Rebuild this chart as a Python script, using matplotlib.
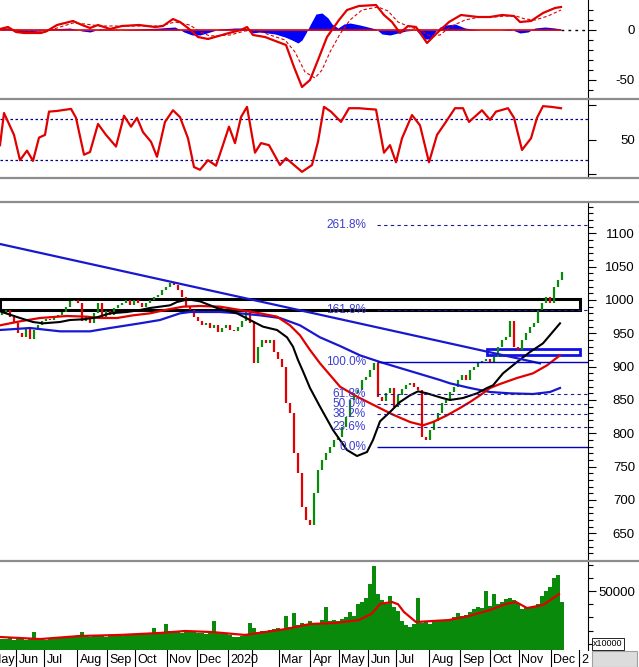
import numpy as np
import matplotlib
matplotlib.use("Agg")
import matplotlib.pyplot as plt
import matplotlib.ticker as mticker
import matplotlib.transforms as mtransforms
from matplotlib.lines import Line2D
from matplotlib.patches import Rectangle

plt.rcParams['font.family'] = ['Liberation Sans', 'DejaVu Sans']

# ---------------------------------------------------------------------------
# Data (x = chart position, 0 .. 588)
# ---------------------------------------------------------------------------

open0 = 978
closes = [
    980, 985, 975, 965, 950, 945, 958, 942, 955, 962, 968, 972, 970, 975, 978,
    982, 990, 998, 1000, 995, 968, 975, 965, 980, 995, 975, 983, 978, 988, 992,
    996, 1000, 993, 1000, 995, 990, 995, 1000, 1005, 1008, 1015, 1020, 1025, 1022, 1015,
    1005, 990, 985, 975, 968, 962, 966, 958, 962, 952, 958, 962, 955, 953, 960,
    968, 985, 965, 905, 930, 940, 935, 940, 922, 912, 900, 845, 830, 770, 740,
    690, 670, 662, 710, 745, 760, 770, 780, 790, 795, 810, 825, 850, 860, 865,
    880, 885, 895, 905, 855, 848, 860, 868, 840, 858, 866, 872, 876, 870, 865,
    795, 790, 805, 818, 830, 845, 850, 862, 870, 880, 888, 880, 895, 900, 905,
    908, 912, 905, 915, 930, 940, 945, 968, 930, 925, 940, 950, 960, 965, 985,
    995, 1005, 995, 1020, 1030, 1042,
]
volumes = [
    14000, 13500, 14500, 13000, 13500, 14000, 13000, 14500, 19000, 14000, 13500, 13000, 14000, 14500, 15000,
    15500, 15000, 16000, 15500, 16500, 19000, 16000, 15500, 16000, 17000, 16500, 15500, 16000, 17000, 16500,
    16000, 17500, 17000, 16500, 17000,
    17500, 18000, 17500, 22000, 18500, 18000, 25000, 19500, 20000, 19000, 18500, 19000, 20000, 19500, 18500,
    18000, 17500, 18500, 27000, 18000, 17500, 18000, 17000,
    15500, 15000, 16000, 17000, 26000,
    22000, 19000, 20000, 19500, 20500,
    21000, 22000, 21500, 31000, 22500, 33000, 24000,
    26000, 25000, 27000, 25500, 26000, 28000, 38000, 27000,
    28000, 27000, 29000, 30000, 34000, 31000, 40000,
    42000, 45000, 55000, 69000, 48000,
    43000, 40000, 46000, 38000, 35000,
    27000, 24000, 23000, 25000, 45000,
    26000, 27000, 25000, 26500, 27000, 28000, 27500,
    29000, 30000, 33000, 31000, 32000,
    34000, 36000, 38000, 37000, 50000, 39000, 48000, 40000,
    42000, 44000, 45000, 43000, 41000,
    36000, 38000, 37000, 39000, 40000,
    46000, 50000, 53000, 60000, 62000, 42000,
]

# moving averages on the price panel
ma_black_x = [0, 10, 20, 33, 43, 60, 70, 83, 97, 110, 127, 140, 150, 160, 170, 177, 188, 200, 217, 237,
              250, 263, 277, 287, 293, 298, 303, 310, 320, 333, 347, 357, 367, 373, 380, 390, 400, 410,
              418, 427, 440, 450, 463, 477, 487, 493, 503, 517, 530, 543, 560]
ma_black = [983, 978, 973, 967, 965, 967, 970, 971, 974, 980, 982, 985, 988, 990, 992, 997, 1001, 998, 988, 980,
            970, 960, 955, 944, 930, 910, 893, 868, 840, 805, 775, 766, 772, 790, 818, 832, 847, 857,
            863, 860, 854, 850, 853, 860, 868, 872, 890, 907, 922, 935, 965]
ma_red_x = [0, 20, 40, 67, 87, 100, 117, 133, 150, 165, 183, 200, 220, 240, 260, 277, 290, 300, 310, 320,
            340, 357, 377, 393, 410, 423, 433, 447, 460, 470, 480, 490, 500, 517, 533, 547, 560]
ma_red = [962, 968, 973, 976, 975, 973, 973, 977, 980, 985, 990, 991, 990, 985, 980, 975, 962, 947, 925, 905,
          870, 855, 840, 828, 817, 812, 817, 827, 838, 847, 857, 868, 874, 883, 890, 902, 917]
ma_blue_x = [0, 30, 60, 90, 110, 140, 160, 180, 190, 220, 240, 260, 280, 300, 320, 340, 360, 380, 400, 420,
             440, 450, 470, 490, 510, 533, 550, 560]
ma_blue = [955, 958, 953, 953, 958, 965, 970, 980, 982, 982, 980, 977, 973, 962, 944, 931, 917, 907, 898, 889,
           880, 875, 868, 862, 860, 859, 862, 868]

# trend line and zones
trend_x = [0, 540]
trend_y = [1084, 905]
resist_zone = (984.5, 1001)     # black box
support_zone = (917.5, 927)     # blue box
fib_low, fib_high = 780, 907
fib_ratios = [0.0, 0.236, 0.382, 0.5, 0.618, 1.0, 1.618, 2.618]
fib_labels = ["0.0%", "23.6%", "38.2%", "50.0%", "61.8%", "100.0%", "161.8%", "261.8%"]

# MACD panel
macd_x = [0, 8, 16, 24, 41, 47, 57, 73, 82, 90, 98, 110, 122, 139, 155, 163, 173, 180, 188, 198,
          208, 229, 241, 247, 253, 265, 278, 286, 294, 302, 310, 318, 327, 339, 347, 359, 376, 384, 392, 400,
          408, 416, 427, 437, 449, 461, 478, 490, 502, 514, 520, 531, 543, 555, 561]
macd = [1, 3, -2, -3, -3, -1, 5, 9, 5, 2, 5, 1, 4, 5, 3, 4, 11, 8, 2, -7,
        -9, -3, 0, 3, -5, -7, -12, -15, -37, -57, -50, -30, -7, 10, 20, 24, 25, 15, 8, -3,
        4, 3, -13, -3, 8, 15, 13, 13, 15, 14, 8, 9, 17, 22, 23]
signal_x = [0, 16, 30, 45, 57, 73, 85, 100, 122, 140, 160, 175, 190, 200, 210, 230, 245, 255, 270, 285,
            295, 305, 315, 322, 330, 340, 350, 362, 378, 388, 398, 410, 420, 430, 440, 450, 465, 480, 495, 505,
            516, 525, 535, 548, 561]
signal = [1, 0, -2, -2, 2, 7, 6, 4, 4, 4, 4, 8, 5, -2, -6, -5, -1, 0, -5, -10,
          -22, -42, -48, -40, -22, -4, 10, 20, 23, 19, 8, 3, 0, -6, -5, 3, 10, 13, 13, 14,
          14, 11, 10, 14, 20]
hist_x = [0, 10, 16, 25, 40, 50, 70, 82, 90, 100, 120, 140, 160, 175, 184, 192, 200, 210, 220, 235,
          245, 252, 260, 275, 285, 292, 298, 302, 306, 310, 316, 322, 328, 332, 338, 344, 350, 360, 368, 376,
          382, 390, 398, 406, 416, 424, 430, 436, 440, 446, 455, 465, 480, 500, 510, 520, 528, 535, 545, 555, 561]
hist = [2, 2, -2, -2, -1, 1, 2, -1, -2, 1, 0, 1, 2, 3, -2, -5, -5, -2, 1, 2,
        2, -3, -2, -4, -7, -10, -13, -10, -3, 5, 16, 17, 12, 6, 2, 6, 7, 5, 3, 1,
        -4, -5, -3, -1, 0, -9, -9, -1, 3, 5, 6, 2, 0, 0, 1, -3, -2, 2, 3, 2, 1]

# oscillator panel
osc_x = [0, 4, 14, 20, 27, 33, 39, 45, 49, 57, 71, 76, 84, 90, 98, 106, 116, 124, 131, 137,
         143, 151, 157, 165, 173, 180, 188, 194, 200, 208, 216, 222, 229, 235, 241, 247, 255, 261, 269, 280,
         286, 294, 302, 312, 318, 324, 331, 341, 349, 359, 367, 376, 384, 390, 396, 402, 412, 420, 429, 437,
         445, 455, 463, 469, 482, 490, 496, 508, 514, 522, 531, 537, 543, 551, 561]
osc = [42, 89, 57, 20, 34, 19, 53, 57, 91, 92, 95, 82, 28, 32, 73, 57, 40, 85, 69, 82,
       61, 47, 25, 76, 93, 83, 52, 10, 6, 20, 12, 38, 69, 45, 83, 98, 31, 45, 42, 13,
       23, 13, 3, 13, 47, 98, 91, 76, 96, 96, 95, 94, 31, 42, 17, 52, 86, 71, 17, 57,
       74, 96, 96, 76, 93, 79, 91, 96, 82, 35, 52, 82, 99, 98, 96]

# volume moving average
vma_x = [0, 40, 80, 120, 160, 185, 212, 245, 265, 286, 310, 335, 359, 372, 380, 392, 398, 404, 416, 433,
         449, 469, 490, 506, 516, 527, 543, 559]
vma = [15150, 13600, 15900, 16700, 18200, 19700, 18900, 16700, 18900, 21200, 25000, 25800, 28000, 33000,
       40200, 41700, 40000, 34100, 26500, 27300, 28000, 31100, 35600, 40200, 41700, 37100, 39400, 47700]

# bottom time axis
month_x = [-11, 16, 44, 77, 107, 135, 167, 197, 228, 252, 279, 310, 339, 368, 396, 429, 460, 490, 519, 551, 579]
month_lbl = ["May", "Jun", "Jul", "Aug", "Sep", "Oct", "Nov", "Dec", "2020", "", "Mar", "Apr", "May",
             "Jun", "Jul", "Aug", "Sep", "Oct", "Nov", "Dec", "2"]

# ---------------------------------------------------------------------------
W, H = 639, 667
XR = 588
GREEN = "#0a8a0a"
RED = "#e00000"
BLUE = "#1818d0"
FIBC = "#3c3cd0"

fig = plt.figure(figsize=(W / 100, H / 100), dpi=100)
fig.patch.set_facecolor("white")


def panel(top, bottom):
    return fig.add_axes([0, 1 - bottom / H, XR / W, (bottom - top) / H])


def style(ax, ylim, major, minor=None, labels=None):
    ax.set_xlim(0, XR)
    ax.set_ylim(*ylim)
    for s in ("top", "left", "bottom"):
        ax.spines[s].set_visible(False)
    ax.spines["right"].set_linewidth(0.8)
    ax.set_xticks([])
    ax.yaxis.tick_right()
    ax.yaxis.set_major_locator(mticker.FixedLocator(major))
    if minor is not None:
        ax.yaxis.set_minor_locator(mticker.FixedLocator(minor))
    if labels is not None:
        ax.yaxis.set_major_formatter(mticker.FixedFormatter(labels))
    ax.tick_params(axis="y", which="major", length=6, width=0.8, pad=27.8,
                   labelsize=9.5, colors="black")
    ax.tick_params(axis="y", which="minor", length=3.5, width=0.8)
    plt.setp(ax.get_yticklabels(), ha="right")


# --- MACD -------------------------------------------------------------------
ax1 = panel(0, 97)
ax1.fill_between(hist_x, hist, 0, color="#0000ff", lw=0)
ax1.hlines(0, 0, 561, color=RED, lw=1.2)
ax1.hlines(0, 561, XR, color="black", lw=1.0, linestyles=(0, (2, 3)))
ax1.plot(signal_x, signal, color=RED, lw=0.8, ls=(0, (3, 2)))
ax1.plot(macd_x, macd, color=RED, lw=1.6)
style(ax1, (-67, 30), [0, -50], np.arange(-60, 30, 10), ["0", "-50"])

# --- oscillator -------------------------------------------------------------
ax2 = panel(100, 178)
ax2.hlines([20, 80], 0, XR, color="#000090", lw=0.9, linestyles=(0, (2, 2)))
ax2.plot(osc_x, osc, color=RED, lw=1.6)
style(ax2, (-6, 108), [0, 50, 100], None, ["", "50", ""])

# --- price ------------------------------------------------------------------
ax3 = panel(203, 559)
pos = 2 + 4 * np.arange(len(closes))
c = np.array(closes, float)
o = np.r_[open0, c[:-1]]
up = c >= o
ax3.vlines(pos[up], o[up], c[up], color=GREEN, lw=1.6)
ax3.vlines(pos[~up], c[~up], o[~up], color=RED, lw=1.6)

ax3.plot(ma_blue_x, ma_blue, color=BLUE, lw=1.6)
ax3.plot(ma_red_x, ma_red, color=RED, lw=1.6)
ax3.plot(ma_black_x, ma_black, color="black", lw=1.5)
ax3.plot(trend_x, trend_y, color=BLUE, lw=1.6)

ax3.add_patch(Rectangle((0, resist_zone[0]), 580, resist_zone[1] - resist_zone[0],
                        fc="none", ec="black", lw=2.2))
ax3.add_patch(Rectangle((487, support_zone[0]), 93, support_zone[1] - support_zone[0],
                        fc="none", ec="#1010e8", lw=2.0))

for r, lbl in zip(fib_ratios, fib_labels):
    lvl = fib_low + r * (fib_high - fib_low)
    if r in (0.0, 1.0):
        ax3.hlines(lvl, 377, XR, color="#0000c0", lw=1.0)
    else:
        ax3.hlines(lvl, 377, XR, color="#1a1a9a", lw=0.8, linestyles=(0, (3, 3)))
    ax3.text(366, lvl, lbl, color=FIBC, fontsize=8.5, ha="right", va="center")

style(ax3, (611.5, 1145.5), np.arange(650, 1101, 50), np.arange(620, 1141, 10))

# --- volume -----------------------------------------------------------------
ax4 = panel(562, 650)
ax4.bar(pos, volumes, width=4.0, bottom=0, color=GREEN, lw=0)
ax4.plot(vma_x, vma, color=RED, lw=1.6)
style(ax4, (5300, 72000), [50000], np.arange(10000, 72000, 10000), ["50000"])

# panel separators
for y in (98.5, 178, 202, 560.5):
    fig.add_artist(Line2D([0, 1], [1 - y / H] * 2, transform=fig.transFigure,
                          color="#8c8c8c", lw=1.6))

# bottom time axis
tr = mtransforms.blended_transform_factory(ax4.transData, fig.transFigure)
for mx, ml in zip(month_x, month_lbl):
    fig.add_artist(Line2D([mx, mx], [0, 1 - 650 / H], transform=tr, color="black", lw=0.8))
    if ml:
        fig.text(mx + 2.5, 1 - 660 / H, ml, transform=tr, fontsize=9, ha="left", va="center")

fig.add_artist(Rectangle((592 / W, 0), 45 / W, 16 / H, transform=fig.transFigure,
                         fc="#dcdcdc", ec="#a0a0a0", lw=0.8))
fig.text(593 / W, 1 - 644 / H, "x10000", fontsize=6.5, ha="left", va="center",
         bbox=dict(fc="white", ec="black", lw=0.6, pad=0.8))

fig.savefig("out.png", dpi=100)
